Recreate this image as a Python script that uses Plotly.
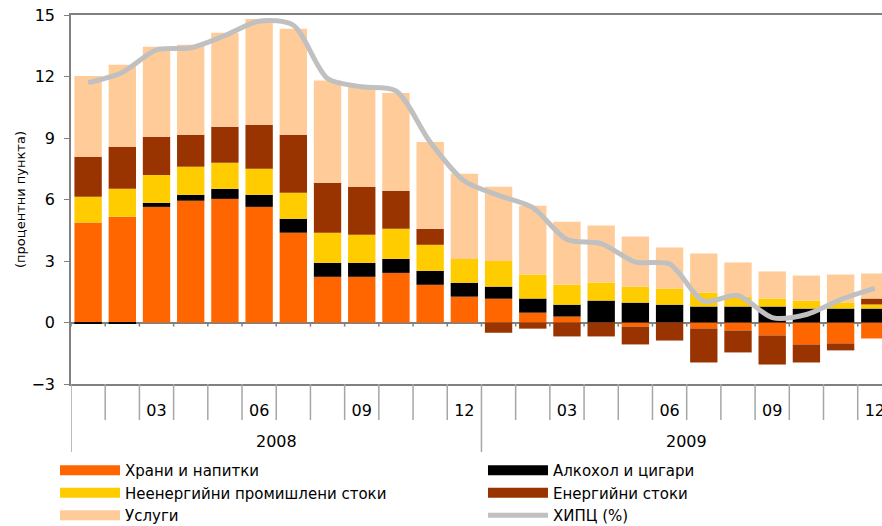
"""HICP inflation contributions, 2008-2009"""
import plotly.graph_objects as go

# months Jan 2008 .. Dec 2009
years = ['2008', '2009']
months = ['01', '02', '03', '04', '05', '06', '07', '08', '09', '10', '11', '12']
shown_months = ['03', '06', '09', '12']

food = [4.88, 5.16, 5.64, 5.94, 6.03, 5.64, 4.38, 2.23, 2.23, 2.42, 1.84, 1.26,
        1.16, 0.48, 0.29, 0.0, -0.20, 0.0, -0.29, -0.39, -0.63, -1.07, -1.02, -0.78]
alcohol = [-0.05, -0.05, 0.20, 0.29, 0.49, 0.59, 0.68, 0.68, 0.68, 0.68, 0.68, 0.68,
           0.59, 0.69, 0.58, 1.07, 0.97, 0.87, 0.78, 0.78, 0.78, 0.68, 0.68, 0.68]
non_energy = [1.25, 1.36, 1.36, 1.37, 1.27, 1.27, 1.27, 1.47, 1.37, 1.47, 1.27, 1.16,
              1.25, 1.17, 0.98, 0.88, 0.78, 0.79, 0.68, 0.49, 0.39, 0.39, 0.30, 0.20]
energy = [1.95, 2.05, 1.86, 1.56, 1.76, 2.15, 2.83, 2.44, 2.34, 1.86, 0.78, 0.0,
          -0.50, -0.30, -0.68, -0.68, -0.87, -0.88, -1.66, -1.07, -1.42, -0.88, -0.34, 0.29]
services = [3.95, 4.00, 4.39, 4.39, 4.58, 5.15, 5.17, 4.98, 4.88, 4.77, 4.24, 4.16,
            3.62, 3.36, 3.07, 2.78, 2.45, 2.00, 1.91, 1.66, 1.32, 1.22, 1.36, 1.22]
hicp = [11.7, 12.2, 13.3, 13.4, 14.0, 14.7, 14.5, 11.9, 11.5, 11.3, 8.8, 6.9,
        6.2, 5.6, 4.05, 3.85, 2.95, 2.85, 1.04, 1.32, 0.24, 0.39, 1.12, 1.66]

# (name, values, colour, legend column)
series = [
    ('Храни и напитки', food, '#FF6600', 'legend'),
    ('Алкохол и цигари', alcohol, '#000000', 'legend2'),
    ('Неенергийни промишлени стоки', non_energy, '#FFCC00', 'legend'),
    ('Енергийни стоки', energy, '#993300', 'legend2'),
    ('Услуги', services, '#FFCC99', 'legend'),
]

FONT = 'DejaVu Sans'
AXIS = '#808080'
DIVIDER = '#A6A6A6'

n = len(years) * len(months)
x = list(range(n))

fig = go.Figure()

for name, vals, color, _ in series:
    fig.add_trace(go.Bar(x=x, y=vals, name=name, marker=dict(color=color, line=dict(width=0)),
                         showlegend=False))

# legend entries drawn as wide swatches, split over two columns
for name, vals, color, leg in series:
    fig.add_trace(go.Scatter(x=[None], y=[None], mode='lines', name=name, legend=leg,
                             line=dict(color=color, width=12)))

fig.add_trace(go.Scatter(x=x, y=hicp, mode='lines', name='ХИПЦ (%)', legend='legend2',
                         line=dict(color='#C0C0C0', width=5, shape='spline', smoothing=0.8)))

# plot area size in px, used to place the label area below the axis
plot_h = 369.0
plot_w = 811.0
shapes = []
for k in range(n + 1):
    is_year = k % len(months) == 0
    shapes.append(dict(type='line', xref='x', yref='paper', x0=k - 0.5, x1=k - 0.5,
                       y0=0, y1=-(68 if is_year else 36) / plot_h,
                       line=dict(color=DIVIDER, width=1.5)))
    shapes.append(dict(type='line', xref='x', yref='y', x0=k - 0.5, x1=k - 0.5,
                       y0=0, y1=-0.2, line=dict(color=AXIS, width=1.5)))

annotations = []
for i, yr in enumerate(years):
    annotations.append(dict(x=i * len(months) + (len(months) - 1) / 2, y=-57 / plot_h,
                            xref='x', yref='paper', text=yr, showarrow=False,
                            font=dict(family=FONT, size=16, color='#000000'),
                            yanchor='middle'))

tickvals = [i for i in x if months[i % len(months)] in shown_months]
ticktext = [months[i % len(months)] for i in tickvals]

legend_style = dict(orientation='v', yanchor='top', xanchor='left', tracegroupgap=0,
                    itemwidth=60, font=dict(family=FONT, size=15),
                    bgcolor='rgba(0,0,0,0)', traceorder='normal')

fig.update_layout(
    width=882, height=526,
    margin=dict(l=71, r=0, t=15, b=142, autoexpand=False),
    paper_bgcolor='white', plot_bgcolor='white',
    barmode='relative', bargap=0.2,
    font=dict(family=FONT, size=16, color='#000000'),
    shapes=shapes,
    annotations=annotations,
    legend=dict(x=-0.0197, y=-0.19, **legend_style),
    legend2=dict(x=0.508, y=-0.19, **legend_style),
    xaxis=dict(range=[-0.5, n - 0.79], tickvals=tickvals, ticktext=ticktext, ticks='',
               showline=True, linecolor=AXIS, linewidth=1.5, mirror=True,
               showgrid=False, zeroline=False, ticklabelstandoff=11, automargin=False,
               ticklabeloverflow='allow', tickfont=dict(family=FONT, size=16)),
    yaxis=dict(range=[-3, 15], tickvals=list(range(-3, 16, 3)), ticks='outside',
               ticklen=5, tickcolor=AXIS, showline=True, linecolor=AXIS, linewidth=1.5,
               showgrid=False, zeroline=True, zerolinecolor=AXIS, zerolinewidth=1.5,
               ticklabelstandoff=6, automargin=False, ticklabeloverflow='allow',
               tickfont=dict(family=FONT, size=16),
               title=dict(text='(процентни пункта)', font=dict(family=FONT, size=13),
                          standoff=3)),
)

# drop the default 8px page margin so the figure fills the window exactly
fig.write_html("out.html", config={'displayModeBar': False},
               post_script="document.body.style.margin = '0';")
